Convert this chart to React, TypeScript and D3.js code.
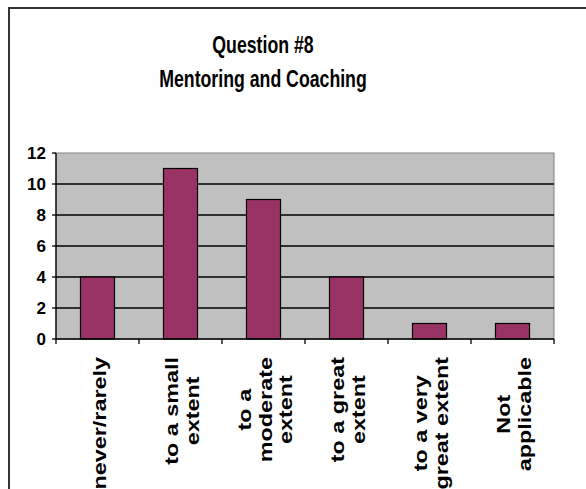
import React, { useEffect, useRef } from 'react';
import * as d3 from 'd3';

// Survey responses for question #8
const categories: string[][] = [
  ['never/rarely'],
  ['to a small', 'extent'],
  ['to a', 'moderate', 'extent'],
  ['to a great', 'extent'],
  ['to a very', 'great extent'],
  ['Not', 'applicable'],
];
const counts: number[] = [4, 11, 9, 4, 1, 1];
const yTicks: number[] = [0, 2, 4, 6, 8, 10, 12];
const titleLines: string[] = ['Question #8', 'Mentoring and Coaching'];

const W = 586;
const H = 489;
const FONT = 'Arial, "Liberation Sans", sans-serif';

export default function App() {
  const ref = useRef<SVGSVGElement>(null);

  useEffect(() => {
    const svg = d3.select(ref.current);
    svg.selectAll('*').remove();

    const plot = { left: 56, right: 554, top: 153, bottom: 339 };

    svg.append('rect').attr('width', W).attr('height', H).attr('fill', '#ffffff');

    // outer chart frame (right and bottom edges run off the page)
    svg
      .append('rect')
      .attr('x', 9)
      .attr('y', 8)
      .attr('width', W)
      .attr('height', H)
      .attr('fill', 'none')
      .attr('stroke', '#333333')
      .attr('stroke-width', 2);

    // title
    const titleY = [53, 87];
    titleLines.forEach((t, i) => {
      svg
        .append('text')
        .attr('transform', `translate(263,${titleY[i]}) scale(0.77,1)`)
        .attr('text-anchor', 'middle')
        .attr('font-family', FONT)
        .attr('font-weight', 'bold')
        .attr('font-size', 23)
        .attr('fill', '#000')
        .text(t);
    });

    const x = d3
      .scaleBand<number>()
      .domain(d3.range(counts.length))
      .range([plot.left, plot.right])
      .padding(0);
    const y = d3.scaleLinear().domain([0, 12]).range([plot.bottom, plot.top]);

    // plot area
    svg
      .append('rect')
      .attr('x', plot.left)
      .attr('y', plot.top)
      .attr('width', plot.right - plot.left)
      .attr('height', plot.bottom - plot.top)
      .attr('fill', '#c0c0c0')
      .attr('stroke', '#808080')
      .attr('stroke-width', 1);

    // gridlines
    svg
      .append('g')
      .selectAll('line')
      .data(yTicks.filter((v) => v > 0 && v < 12))
      .join('line')
      .attr('x1', plot.left)
      .attr('x2', plot.right)
      .attr('y1', (d) => y(d))
      .attr('y2', (d) => y(d))
      .attr('stroke', '#000')
      .attr('stroke-width', 1.3);

    // bars
    const bw = x.bandwidth() * 0.41;
    svg
      .append('g')
      .selectAll('rect')
      .data(counts)
      .join('rect')
      .attr('x', (_, i) => (x(i) as number) + x.bandwidth() / 2 - bw / 2)
      .attr('y', (d) => y(d))
      .attr('width', bw)
      .attr('height', (d) => y(0) - y(d))
      .attr('fill', '#993366')
      .attr('stroke', '#000')
      .attr('stroke-width', 1.2);

    // y axis
    const yAxis = svg.append('g');
    yAxis
      .append('line')
      .attr('x1', plot.left)
      .attr('x2', plot.left)
      .attr('y1', plot.top)
      .attr('y2', plot.bottom)
      .attr('stroke', '#000')
      .attr('stroke-width', 1.3);
    yTicks.forEach((v) => {
      yAxis
        .append('line')
        .attr('x1', plot.left - 4)
        .attr('x2', plot.left)
        .attr('y1', y(v))
        .attr('y2', y(v))
        .attr('stroke', '#000')
        .attr('stroke-width', 1.3);
      yAxis
        .append('text')
        .attr('x', 46)
        .attr('y', y(v))
        .attr('dy', '0.36em')
        .attr('text-anchor', 'end')
        .attr('font-family', FONT)
        .attr('font-weight', 'bold')
        .attr('font-size', 17)
        .attr('fill', '#000')
        .text(String(v));
    });

    // x axis
    const xAxis = svg.append('g');
    xAxis
      .append('line')
      .attr('x1', plot.left)
      .attr('x2', plot.right)
      .attr('y1', plot.bottom)
      .attr('y2', plot.bottom)
      .attr('stroke', '#000')
      .attr('stroke-width', 1.3);
    d3.range(counts.length + 1).forEach((i) => {
      const tx = plot.left + i * x.bandwidth();
      xAxis
        .append('line')
        .attr('x1', tx)
        .attr('x2', tx)
        .attr('y1', plot.bottom)
        .attr('y2', plot.bottom + 5)
        .attr('stroke', '#000')
        .attr('stroke-width', 1.3);
    });

    // rotated category labels, lines centred on the longest one
    const labelTop = 357;
    const lineGap = 21;
    categories.forEach((lines, i) => {
      const cx = (x(i) as number) + x.bandwidth() / 2 + 2;
      const g = xAxis
        .append('g')
        .attr('transform', `translate(${cx},${labelTop}) rotate(-90) scale(1.3,1)`);
      const nodes = lines.map((t, k) =>
        g
          .append('text')
          .attr('y', (k - (lines.length - 1) / 2) * lineGap + 6)
          .attr('text-anchor', 'middle')
          .attr('font-family', FONT)
          .attr('font-weight', 'bold')
          .attr('font-size', 18)
          .attr('fill', '#000')
          .text(t)
      );
      const maxLen = d3.max(nodes, (n) => (n.node() as SVGTextElement).getComputedTextLength()) || 0;
      nodes.forEach((n) => n.attr('x', -maxLen / 2));
    });
  }, []);

  return (
    <svg
      ref={ref}
      width={W}
      height={H}
      style={{ position: 'absolute', left: 0, top: 0, display: 'block' }}
    />
  );
}
